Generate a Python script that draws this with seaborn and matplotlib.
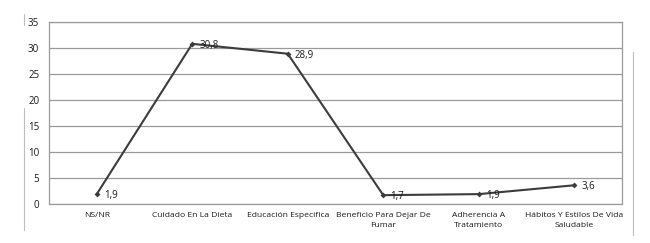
import numpy as np
import pandas as pd
import matplotlib.pyplot as plt
import seaborn as sns
from matplotlib.lines import Line2D

# data
categories = ['NS/NR', 'Cuidado En La Dieta', 'Educación Especifica',
              'Beneficio Para Dejar De\nFumar', 'Adherencia A\nTratamiento',
              'Hábitos Y Estilos De Vida\nSaludable']
values = [1.9, 30.8, 28.9, 1.7, 1.9, 3.6]
value_labels = ['1,9', '30,8', '28,9', '1,7', '1,9', '3,6']

df = pd.DataFrame({'cat': categories, 'val': values})

sns.set_style('white')
plt.rcParams['font.family'] = ['Open Sans', 'DejaVu Sans']

fig = plt.figure(figsize=(6.5, 2.43), dpi=100)
ax = fig.add_axes([49 / 650, 1 - 204 / 243, 573 / 650, 182 / 243])

xpos = np.arange(len(categories))
sns.lineplot(x=xpos, y=df['val'], ax=ax, color='#3c3c3c', lw=1.5,
             marker='D', markersize=3, markeredgewidth=0)

for x, v, lab in zip(xpos, values, value_labels):
    ax.annotate(lab, (x, v), xytext=(5, -1), textcoords='offset points',
                fontsize=7, color='#1a1a1a', va='center', ha='left')

ax.set_xlim(-0.5, len(categories) - 0.5)
ax.set_ylim(0, 35)
ax.set_yticks(range(0, 36, 5))
ax.set_xticks(xpos)
ax.set_xticklabels(categories, fontsize=6.1, color='#1a1a1a', linespacing=1.5)
ax.tick_params(axis='y', labelsize=7, colors='#1a1a1a', length=0, pad=7)
ax.tick_params(axis='x', length=0, pad=6)
ax.grid(axis='y', color='#9a9a9a', lw=0.9)
ax.set_axisbelow(True)
for s in ax.spines.values():
    s.set_color('#9a9a9a')
    s.set_linewidth(0.9)
ax.set_xlabel('')
ax.set_ylabel('')

# faint scan edges
fig.add_artist(Line2D([24 / 650, 24 / 650], [1 - 108 / 243, 1 - 230 / 243], color='#bdbdbd', lw=0.8))
fig.add_artist(Line2D([24 / 650, 24 / 650], [1 - 14 / 243, 1 - 25 / 243], color='#bdbdbd', lw=0.8))
fig.add_artist(Line2D([633 / 650, 633 / 650], [1 - 52 / 243, 1 - 235 / 243], color='#bdbdbd', lw=0.8))

fig.savefig('out.png', dpi=100)
